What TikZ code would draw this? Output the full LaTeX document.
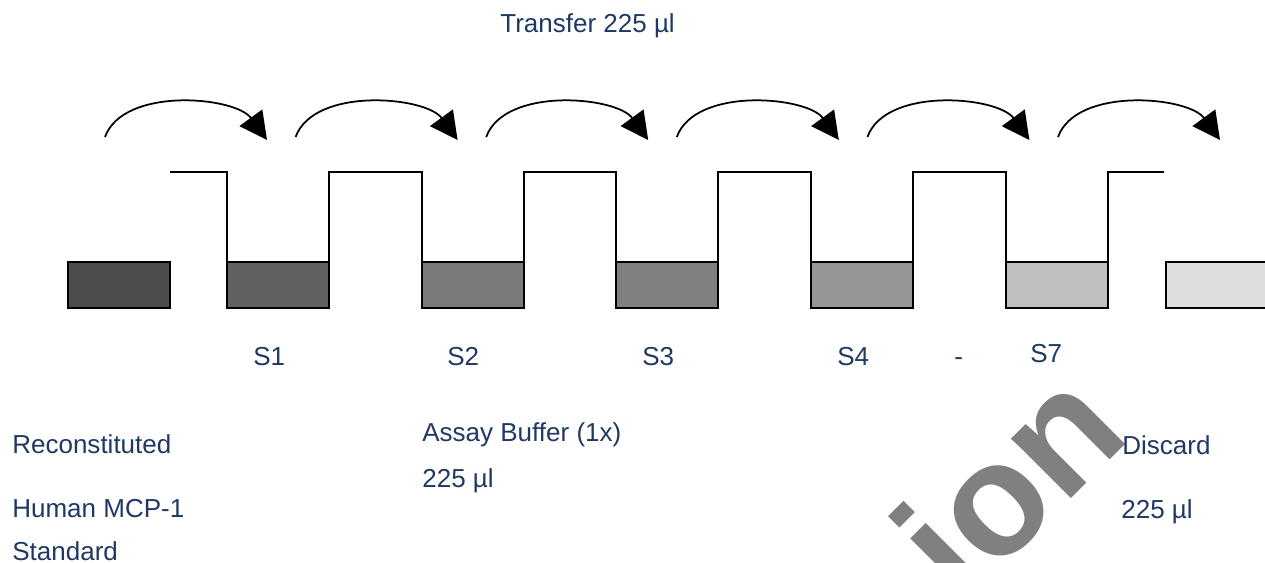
\documentclass[tikz,border=0pt]{standalone}
\usepackage{fontspec}
\setmainfont{Liberation Sans}
\usetikzlibrary{arrows.meta}
\definecolor{labelblue}{HTML}{1F3864}
\definecolor{markgray}{HTML}{808080}

\begin{document}
\begin{tikzpicture}[x=0.02cm,y=-0.02cm]
	\tikzset{well/.style={draw,line width=1.2pt,anchor=north west,outer sep=0pt,minimum width=2.04cm,minimum height=0.92cm}}
	\tikzset{stepline/.style={line width=1pt}}
	\tikzset{transfer/.style={line width=1pt,-{Triangle[length=0.55cm,width=0.56cm]}}}
	\tikzset{lbl/.style={anchor=base west,inner sep=0pt,text=labelblue,font=\fontsize{14.8}{18}\selectfont}}
	\useasboundingbox (0,0) rectangle (1265,562);
	\clip (0,0) rectangle (1265,562);
	\node[rotate=45,anchor=base west,inner sep=0pt,text=markgray,font=\fontsize{91}{91}\selectfont\bfseries] (mark) at (962.5,607) {ion};
	\foreach \x/\k [count=\i from 0] in {68/70,227/62,422/52,616/50,811/41,1006/25,1166/13}
		\node[well,fill=black!\k] (w\i) at (\x,262) {};
	\coordinate (t0) at (170,172);
	\coordinate (t6) at (1164,172);
	\draw[stepline] (t0) -| (w1.north west);
	\foreach \i [evaluate=\i as \j using int(\i+1)] in {1,...,4}
		\draw[stepline] (w\i.north east) -- ++(0,-90) -| (w\j.north west);
	\draw[stepline] (w5.north east) |- (t6);
	\foreach \i in {0,...,5}{
		\coordinate (a\i) at (105+190.6*\i,137);
		\coordinate (b\i) at (267+190.6*\i,140);
		\draw[transfer] (a\i) to[out=70,in=126,looseness=0.85] (b\i);
	}
	\node[lbl] (transfer) at (500,32) {Transfer 225 µl};
	\node[lbl] (s1) at (253,365) {S1};
	\node[lbl] (s2) at (447,365) {S2};
	\node[lbl] (s3) at (642,365) {S3};
	\node[lbl] (s4) at (837,365) {S4};
	\node[lbl] (dash) at (954,365) {-};
	\node[lbl] (s7) at (1030,362) {S7};
	\node[lbl] (recon) at (12,453) {Reconstituted};
	\node[lbl] (human) at (12,517) {Human MCP-1};
	\node[lbl] (std) at (12,560) {Standard};
	\node[lbl] (buffer) at (422,441) {Assay Buffer (1x)};
	\node[lbl] (buffervol) at (422,487) {225 µl};
	\node[lbl] (discard) at (1122,454) {Discard};
	\node[lbl] (discardvol) at (1121,518) {225 µl};
\end{tikzpicture}
\end{document}
